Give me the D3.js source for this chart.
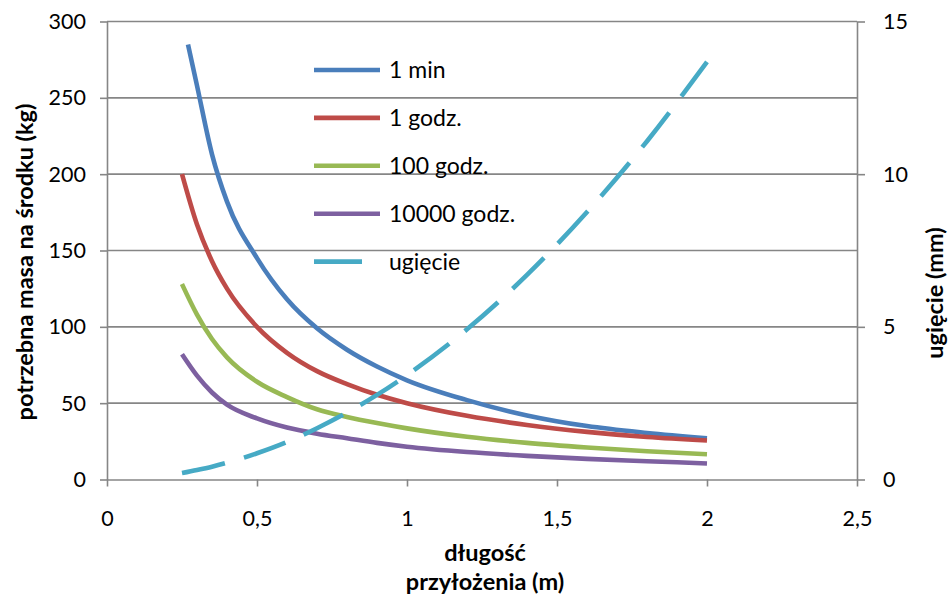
<!DOCTYPE html>
<html>
<head>
<meta charset="utf-8">
<script src="https://cdn.jsdelivr.net/npm/d3@7"></script>
<style>
  html, body { margin: 0; padding: 0; background: #fff; }
  svg { display: block; font-family: Lato, "Open Sans", "DejaVu Sans", sans-serif; }
</style>
</head>
<body>
<svg id="chart" width="950" height="595"></svg>
<script>
// span length (m) at which each series was computed
const lengths = [0.25, 0.3, 0.35, 0.4, 0.5, 0.6, 0.7, 0.8, 0.9, 1.0, 1.2, 1.4, 1.6, 1.8, 2.0];
const lengths1min = [0.27, 0.3, 0.35, 0.4, 0.5, 0.6, 0.7, 0.8, 0.9, 1.0, 1.2, 1.4, 1.6, 1.8, 2.0];

// required mass at mid-span (kg) for each load duration
const mass1min   = [285, 258, 213, 182, 145, 118, 99, 85, 74, 65, 52, 42, 35, 30.5, 27];
const mass1h     = [200, 167, 143, 125, 100, 83, 71, 62.5, 55.5, 50, 41.7, 35.7, 31.2, 27.8, 25.5];
const mass100h   = [128, 108, 92, 80, 64, 54, 46, 41, 37, 33.5, 28, 24, 21, 18.5, 16.5];
const mass10000h = [82, 68, 57, 49, 40, 34, 30, 27, 24, 21.5, 18, 15.5, 13.5, 12, 10.5];

// deflection (mm), right axis
const deflection = [0.21, 0.31, 0.42, 0.55, 0.86, 1.23, 1.68, 2.19, 2.77, 3.42, 4.92, 6.70, 8.76, 11.08, 13.68];

const seriesNames = ["1 min", "1 godz.", "100 godz.", "10000 godz.", "ugięcie"];
const seriesColors = ["#4A7EBB", "#BE4B48", "#98B954", "#7D60A0", "#46AAC5"];

const xTicks = [0, 0.5, 1, 1.5, 2, 2.5];
const xTickLabels = ["0", "0,5", "1", "1,5", "2", "2,5"];
const yTicks = [0, 50, 100, 150, 200, 250, 300];
const y2Ticks = [0, 5, 10, 15];

const svg = d3.select("#chart");
const plotLeft = 107, plotRight = 857, plotTop = 21.5, plotBottom = 479.5;
const gridColor = "#868686";

const x = d3.scaleLinear().domain([0, 2.5]).range([plotLeft, plotRight]);
const y = d3.scaleLinear().domain([0, 300]).range([plotBottom, plotTop]);
const y2 = d3.scaleLinear().domain([0, 15]).range([plotBottom, plotTop]);

// horizontal gridlines
svg.append("g").selectAll("line")
  .data(yTicks.filter(d => d > 0))
  .join("line")
  .attr("x1", plotLeft).attr("x2", plotRight)
  .attr("y1", d => y(d)).attr("y2", d => y(d))
  .attr("stroke", gridColor).attr("stroke-width", 1.6);

function styleAxis(g) {
  g.selectAll(".domain").attr("stroke", gridColor).attr("stroke-width", 1.6);
  g.selectAll(".tick line").attr("stroke", gridColor).attr("stroke-width", 1.6);
  g.selectAll(".tick text").attr("fill", "#000").attr("font-size", 21.5)
    .attr("font-family", "Lato, 'Open Sans', sans-serif");
}

// bottom axis
svg.append("g")
  .attr("transform", `translate(0,${plotBottom})`)
  .call(d3.axisBottom(x).tickValues(xTicks).tickFormat((d, i) => xTickLabels[i])
    .tickSizeInner(7).tickSizeOuter(0).tickPadding(24))
  .call(styleAxis);

// left axis
svg.append("g")
  .attr("transform", `translate(${plotLeft},0)`)
  .call(d3.axisLeft(y).tickValues(yTicks).tickSizeInner(7).tickSizeOuter(0).tickPadding(14))
  .call(styleAxis);

// right axis
svg.append("g")
  .attr("transform", `translate(${plotRight},0)`)
  .call(d3.axisRight(y2).tickValues(y2Ticks).tickSizeInner(8).tickSizeOuter(0).tickPadding(18))
  .call(styleAxis);

// series lines
const massSeries = [
  { xs: lengths1min, ys: mass1min },
  { xs: lengths, ys: mass1h },
  { xs: lengths, ys: mass100h },
  { xs: lengths, ys: mass10000h }
];

const lineMass = d3.line().x(d => x(d[0])).y(d => y(d[1])).curve(d3.curveMonotoneX);
const lineDefl = d3.line().x(d => x(d[0])).y(d => y2(d[1])).curve(d3.curveMonotoneX);

massSeries.forEach((s, i) => {
  svg.append("path")
    .datum(s.xs.map((v, k) => [v, s.ys[k]]))
    .attr("d", lineMass)
    .attr("fill", "none")
    .attr("stroke", seriesColors[i])
    .attr("stroke-width", 4.6)
    .attr("stroke-linejoin", "round");
});

svg.append("path")
  .datum(lengths.map((v, k) => [v, deflection[k]]))
  .attr("d", lineDefl)
  .attr("fill", "none")
  .attr("stroke", seriesColors[4])
  .attr("stroke-width", 4.6)
  .attr("stroke-dasharray", "44 20");

// legend
const legend = svg.append("g");
seriesNames.forEach((name, i) => {
  const cy = 70 + i * 47.9;
  legend.append("line")
    .attr("x1", 314).attr("x2", i === 4 ? 362 : 380)
    .attr("y1", cy).attr("y2", cy)
    .attr("stroke", seriesColors[i]).attr("stroke-width", 4.6);
  legend.append("text")
    .attr("x", 389).attr("y", cy)
    .attr("dy", "0.35em")
    .attr("font-size", 23)
    .attr("fill", "#000")
    .text(name);
});

// axis titles
svg.append("text")
  .attr("transform", `translate(33,262) rotate(-90)`)
  .attr("text-anchor", "middle")
  .attr("font-size", 23.5).attr("font-weight", "bold")
  .text("potrzebna masa na środku (kg)");

svg.append("text")
  .attr("transform", `translate(943,293) rotate(-90)`)
  .attr("text-anchor", "middle")
  .attr("font-size", 23.5).attr("font-weight", "bold")
  .text("ugięcie (mm)");

svg.append("text")
  .attr("x", 485).attr("y", 561)
  .attr("text-anchor", "middle")
  .attr("font-size", 23.5).attr("font-weight", "bold")
  .text("długość");

svg.append("text")
  .attr("x", 485).attr("y", 590)
  .attr("text-anchor", "middle")
  .attr("font-size", 23.5).attr("font-weight", "bold")
  .text("przyłożenia (m)");
</script>
</body>
</html>
